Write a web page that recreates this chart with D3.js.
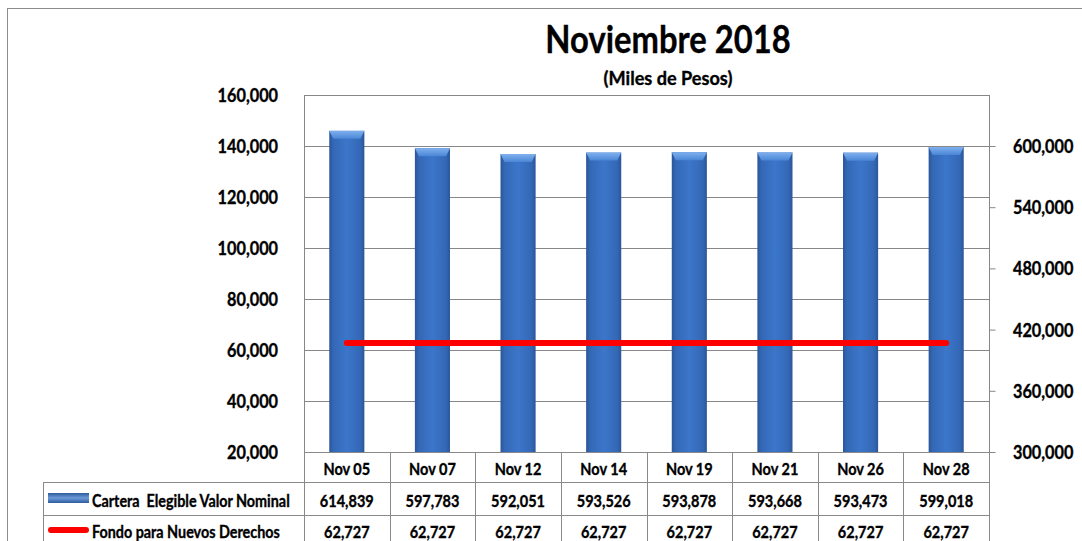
<!DOCTYPE html>
<html><head><meta charset="utf-8">
<script src="https://cdn.jsdelivr.net/npm/d3@7"></script>
<style>
html,body{margin:0;padding:0;background:#fff;}
svg{display:block;}
text{font-family:Lato,"Open Sans",sans-serif;font-weight:bold;fill:#000;stroke:#000;stroke-width:0.35px;white-space:pre;}
</style></head>
<body>
<svg id="chart" width="1082" height="541"></svg>
<script>
const categories = ["Nov 05","Nov 07","Nov 12","Nov 14","Nov 19","Nov 21","Nov 26","Nov 28"];
const carteraValues = [614839,597783,592051,593526,593878,593668,593473,599018];
const fondoValues = [62727,62727,62727,62727,62727,62727,62727,62727];
const leftTicks = [20000,40000,60000,80000,100000,120000,140000,160000];
const rightTicks = [300000,360000,420000,480000,540000,600000];
const seriesNames = ["Cartera  Elegible Valor Nominal","Fondo para Nuevos Derechos"];
const titleText = "Noviembre 2018";
const subtitleText = "(Miles de Pesos)";

const svg = d3.select("#chart");
const L = 304, R = 989, T = 95, B = 452;
const gridColor = "#878787";
const fmt = d3.format(",");
const SX = 0.88;

function txt(g, x, y, s, size, anchor, sx){
  return g.append("text").attr("transform",`translate(${x},${y}) scale(${sx||SX},1)`)
    .attr("text-anchor",anchor||"start").attr("xml:space","preserve").style("font-size",size+"px").text(s);
}

const x = d3.scaleBand().domain(categories).range([L, R]).padding(0);
const yL = d3.scaleLinear().domain([20000,160000]).range([B, T]);
const yR = d3.scaleLinear().domain([300000,650000]).range([B, T]);

const defs = svg.append("defs");
const g1 = defs.append("linearGradient").attr("id","barGrad").attr("x1","0").attr("x2","1").attr("y1","0").attr("y2","0");
g1.append("stop").attr("offset","0").attr("stop-color","#2b5699");
g1.append("stop").attr("offset","0.12").attr("stop-color","#3468b6");
g1.append("stop").attr("offset","0.5").attr("stop-color","#3c76ca");
g1.append("stop").attr("offset","0.88").attr("stop-color","#3468b6");
g1.append("stop").attr("offset","1").attr("stop-color","#2b5699");
const g2 = defs.append("linearGradient").attr("id","capGrad").attr("x1","0").attr("x2","0").attr("y1","0").attr("y2","1");
g2.append("stop").attr("offset","0").attr("stop-color","#7fb0ee");
g2.append("stop").attr("offset","1").attr("stop-color","#4a86d6");
const g3 = defs.append("linearGradient").attr("id","legGrad").attr("x1","0").attr("x2","0").attr("y1","0").attr("y2","1");
g3.append("stop").attr("offset","0").attr("stop-color","#2d5c9e");
g3.append("stop").attr("offset","0.5").attr("stop-color","#6c9ad8");
g3.append("stop").attr("offset","1").attr("stop-color","#2d5c9e");

// outer border
svg.append("rect").attr("x",7.5).attr("y",8.5).attr("width",1100).attr("height",600)
  .attr("fill","none").attr("stroke","#8c8c8c").attr("stroke-width",1);

// title
txt(svg, 668, 53, titleText, 39, "middle", 0.84);
txt(svg, 668, 85, subtitleText, 18.5, "middle", 0.98);

// gridlines
svg.append("g").selectAll("line").data(leftTicks.slice(1)).join("line")
  .attr("x1",L).attr("x2",R).attr("y1",d=>Math.round(yL(d))+0.5).attr("y2",d=>Math.round(yL(d))+0.5)
  .attr("stroke",gridColor).attr("stroke-width",1);
svg.append("line").attr("x1",L+0.5).attr("x2",L+0.5).attr("y1",T).attr("y2",B).attr("stroke",gridColor);

// left axis labels
const lg = svg.append("g");
leftTicks.forEach(d=>txt(lg, 278, yL(d)+7, fmt(d), 18.5, "end"));

// right axis
const rAxis = d3.axisRight(yR).tickValues(rightTicks).tickSize(6).tickFormat("");
const rg = svg.append("g").attr("transform",`translate(${R+0.5},0)`).call(rAxis);
rg.select(".domain").attr("stroke",gridColor).attr("d",`M0,${T}V${B}`);
rg.selectAll(".tick line").attr("stroke",gridColor);
const rl = svg.append("g");
rightTicks.forEach(d=>txt(rl, 1013, yR(d)+7, fmt(d), 18.5, "start"));

// bars
const bw = x.bandwidth()*0.41;
const bars = svg.append("g").selectAll("g").data(categories.map((c,i)=>({c,v:carteraValues[i]}))).join("g");
bars.append("rect").attr("x",d=>x(d.c)+x.bandwidth()/2-bw/2).attr("y",d=>yR(d.v))
  .attr("width",bw).attr("height",d=>B-yR(d.v)).attr("fill","url(#barGrad)");
bars.append("path").attr("d",d=>{
  const x0=x(d.c)+x.bandwidth()/2-bw/2, y0=yR(d.v);
  return `M${x0},${y0}H${x0+bw}L${x0+bw-4},${y0+8}H${x0+4}Z`;
}).attr("fill","url(#capGrad)");

// line
const line = d3.line().x((d,i)=>x(categories[i])+x.bandwidth()/2).y(d=>yL(d));
svg.append("path").datum(fondoValues).attr("d",line).attr("fill","none")
  .attr("stroke","#ff0000").attr("stroke-width",6).attr("stroke-linecap","round");

// table
const tb = svg.append("g").attr("stroke","#8a8a8a").attr("stroke-width",1);
const rowY = [452,482,515,549];
tb.append("line").attr("x1",L).attr("x2",R).attr("y1",rowY[0]+0.5).attr("y2",rowY[0]+0.5);
tb.append("line").attr("x1",43).attr("x2",R).attr("y1",rowY[1]+0.5).attr("y2",rowY[1]+0.5);
tb.append("line").attr("x1",43).attr("x2",R).attr("y1",rowY[2]+0.5).attr("y2",rowY[2]+0.5);
tb.append("line").attr("x1",43.5).attr("x2",43.5).attr("y1",rowY[1]).attr("y2",541);
const bounds = categories.map(c=>x(c)).concat([R]);
tb.selectAll("line.v").data(bounds).join("line").attr("class","v")
  .attr("x1",d=>Math.round(d)+0.5).attr("x2",d=>Math.round(d)+0.5).attr("y1",rowY[0]).attr("y2",541);

const tg = svg.append("g");
categories.forEach((c,i)=>{
  const cx = x(c)+x.bandwidth()/2;
  txt(tg, cx, 475, c, 16.5, "middle");
  txt(tg, cx, 507, fmt(carteraValues[i]), 16.5, "middle");
  txt(tg, cx, 538, fmt(fondoValues[i]), 16.5, "middle");
});

// legend keys
svg.append("rect").attr("x",48).attr("y",493).attr("width",41).attr("height",10).attr("fill","url(#legGrad)");
svg.append("line").attr("x1",51).attr("x2",86).attr("y1",530).attr("y2",530).attr("stroke","#ff0000").attr("stroke-width",6).attr("stroke-linecap","round");
txt(svg, 92, 507, seriesNames[0], 16.5, "start", 0.87);
txt(svg, 92, 538, seriesNames[1], 16.5, "start", 0.87);
</script>
</body></html>
